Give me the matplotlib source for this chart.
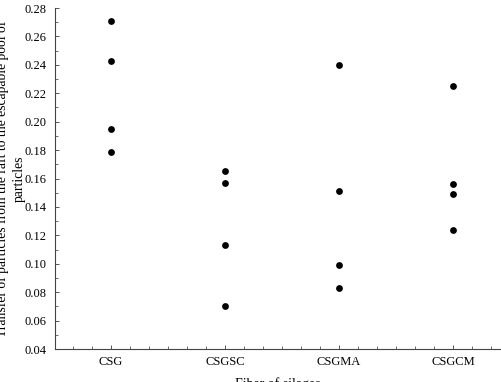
import matplotlib
matplotlib.use("Agg")
import matplotlib.pyplot as plt
from matplotlib.ticker import MultipleLocator

categories = ["CSG", "CSGSC", "CSGMA", "CSGCM"]
transfer = [
    [0.271, 0.243, 0.195, 0.179],
    [0.165, 0.157, 0.113, 0.070],
    [0.240, 0.151, 0.099, 0.083],
    [0.225, 0.156, 0.149, 0.124],
]
y_ticks = [0.04, 0.06, 0.08, 0.10, 0.12, 0.14, 0.16, 0.18, 0.20, 0.22, 0.24, 0.26, 0.28]

plt.rcParams["font.family"] = ["Liberation Serif", "DejaVu Serif"]

fig = plt.figure(figsize=(5.01, 3.82), dpi=100)
ax = fig.add_axes([55 / 501, 1 - 349 / 382, (501 - 55) / 501, (349 - 8) / 382])

for i, vals in enumerate(transfer):
    ax.scatter([i] * len(vals), vals, s=24, color="black", zorder=3, linewidths=0)

ax.set_xlim(-0.49, 3.42)
ax.set_ylim(0.04, 0.28)
ax.set_xticks(range(len(categories)))
ax.set_xticklabels(categories, fontsize=9)
ax.set_yticks(y_ticks)
ax.set_yticklabels([f"{t:.2f}" for t in y_ticks], fontsize=9)
ax.xaxis.set_minor_locator(MultipleLocator(1 / 6))
ax.yaxis.set_minor_locator(MultipleLocator(0.01))
ax.tick_params(which="major", direction="in", length=3, width=0.7, color="#555", pad=6)
ax.tick_params(which="minor", direction="in", length=2, width=0.6, color="#555")
ax.tick_params(axis="x", which="major", pad=5)

for side in ("top", "right"):
    ax.spines[side].set_visible(False)
for side in ("left", "bottom"):
    ax.spines[side].set_color("#444")
    ax.spines[side].set_linewidth(0.8)

ax.set_xlabel("Fiber of silages", fontsize=10, labelpad=6.5)
ax.set_ylabel("Transfer of particles from the raft to the escapable pool of\nparticles",
              fontsize=9.8, labelpad=-1, linespacing=1.45)

fig.savefig("out.png", dpi=100)
